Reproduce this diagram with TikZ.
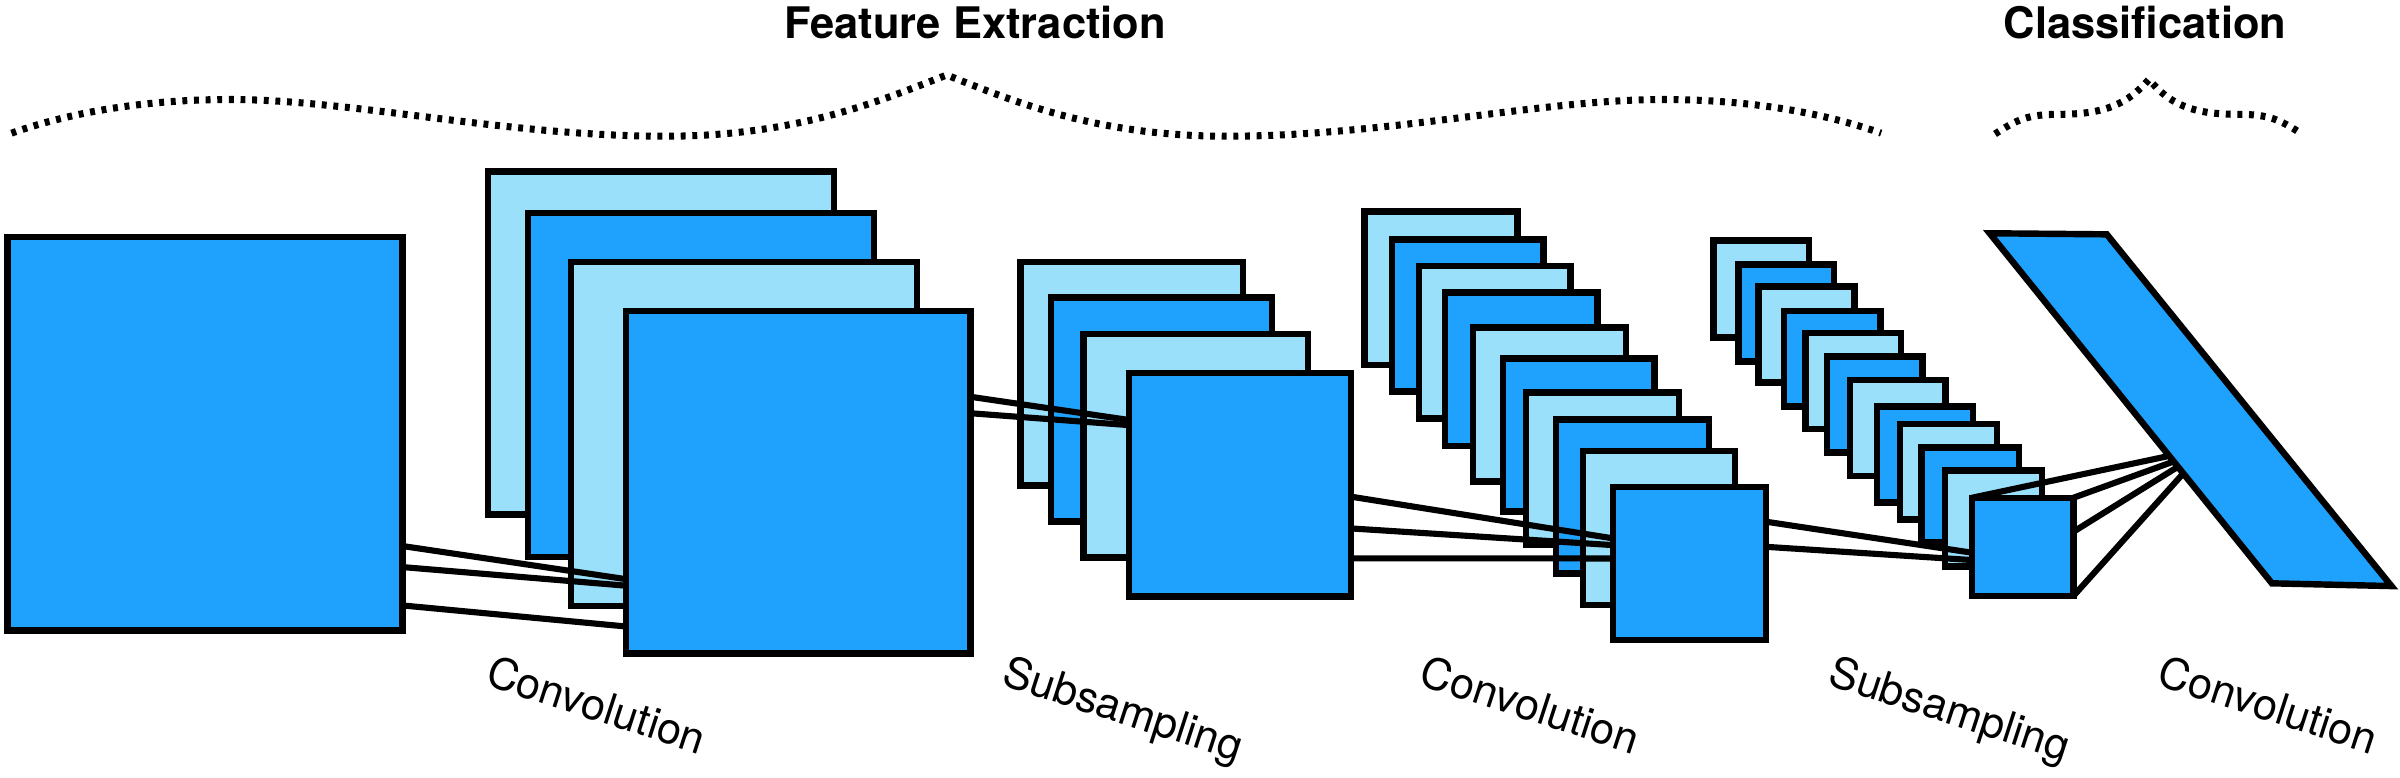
\documentclass[tikz,border=0pt]{standalone}
\usepackage{fontspec}
\setmainfont{TeX Gyre Heros}
\usetikzlibrary{calc}
\definecolor{dk}{RGB}{30,162,253}
\definecolor{lt}{RGB}{154,224,251}
\pgfdeclarelayer{bg}
\pgfdeclarelayer{mid}
\pgfsetlayers{bg,mid,main}
\newcommand\fmbox[6]{\node[#2, minimum width={(#5-#3)*0.5pt}, minimum height={(#6-#4)*0.5pt}] (#1) at ({(#3+#5)/2},{(#4+#6)/2}) {};}
\begin{document}
\begin{tikzpicture}[x=0.5pt,y=-0.5pt,
  fm/.style={draw=black, line width=2.1pt, inner sep=0pt, outer sep=0pt, rectangle},
  fd/.style={fm, fill=dk}, fl/.style={fm, fill=lt},
  link/.style={line width=2pt},
  brace/.style={line width=2.3pt, dash pattern=on 1.6pt off 2.2pt},
  ttl/.style={font=\bfseries\fontsize{14.2}{16}\selectfont, inner sep=0pt, anchor=base},
  lbl/.style={font=\fontsize{14.1}{16}\selectfont, inner sep=0pt, anchor=base west, rotate=-18}]
\useasboundingbox (0,0) rectangle (1568,508);

% titles
\node[ttl] (fe) at (637,25) {Feature Extraction};
\node[ttl] (cl) at (1401.5,25) {Classification};

% braces
\draw[brace] (7.5,87) .. controls (50,72) and (100,65) .. (150,65)
  .. controls (230,65) and (330,89) .. (435,89)
  .. controls (520,89) and (575,66) .. (618.5,49)
  .. controls (661.5,66) and (716.5,89) .. (801.5,89)
  .. controls (906.5,89) and (1006.5,65) .. (1086.5,65)
  .. controls (1136.5,65) and (1186.5,72) .. (1229,87);
\draw[brace] (1303.4,87.5) .. controls (1318,78) and (1325,74.7) .. (1345,74.7)
  .. controls (1375,74.7) and (1390,68) .. (1404,51.8)
  .. controls (1417.2,68) and (1432.2,74.7) .. (1462.2,74.7)
  .. controls (1482.2,74.7) and (1489.2,78) .. (1503.8,87.5);

% back maps
\begin{pgfonlayer}{bg}
\fmbox{ca}{fl}{319}{112}{545}{336}
\fmbox{cb}{fd}{345}{139}{571}{364}
\fmbox{cc}{fl}{373}{171}{599}{396}
\fmbox{sa}{fl}{666.7}{171}{812}{317.3}
\fmbox{sb}{fd}{686.6}{194.5}{831}{340.8}
\fmbox{sc}{fl}{708}{218.2}{854.6}{364.1}
\fmbox{ka}{fl}{891.5}{138.3}{991.4}{238.5}
\fmbox{kb}{fd}{909.3}{156.4}{1008.4}{255.9}
\fmbox{kc}{fl}{927}{173.6}{1026.1}{273.3}
\fmbox{kd}{fd}{944}{191}{1043.8}{291.2}
\fmbox{ke}{fl}{962.4}{213.9}{1062.3}{314.7}
\fmbox{kf}{fd}{981.8}{234.1}{1081}{334.3}
\fmbox{kg}{fl}{997}{256.5}{1097}{356.1}
\fmbox{kh}{fd}{1016.6}{274}{1116.4}{374.6}
\fmbox{ki}{fl}{1034.3}{294.7}{1133.4}{395.3}
\fmbox{ta}{fl}{1119.6}{157.2}{1181.8}{220.4}
\fmbox{tb}{fd}{1135.8}{172.7}{1198.3}{236.3}
\fmbox{tc}{fl}{1149}{187.3}{1211.7}{249.8}
\fmbox{td}{fd}{1165.5}{203}{1228.6}{265.7}
\fmbox{te}{fl}{1179.5}{217.4}{1242.1}{280.1}
\fmbox{tf}{fd}{1193.6}{233}{1256.1}{295.7}
\fmbox{tg}{fl}{1208.6}{248.3}{1271.1}{311}
\fmbox{th}{fd}{1226.4}{265.7}{1289}{328.4}
\fmbox{ti}{fl}{1241.4}{277}{1304.6}{339.3}
\fmbox{tj}{fd}{1255.5}{292.5}{1319.2}{354.5}
\fmbox{tk}{fl}{1270.8}{307.5}{1334.2}{370.2}
\end{pgfonlayer}

% front maps
\fmbox{in}{fd}{5}{155}{263}{412}
\fmbox{cd}{fd}{409}{203}{634}{427}
\fmbox{sd}{fd}{737.5}{243.7}{882.7}{389.8}
\fmbox{kj}{fd}{1053.8}{318}{1153.6}{418.1}
\fmbox{tl}{fd}{1288.3}{325.2}{1354.6}{389.4}

% output layer
\coordinate (pa) at (1299.9,152.4);
\coordinate (pb) at (1376.4,153.1);
\coordinate (pc) at (1562.4,382.9);
\coordinate (pd) at (1484.3,381.1);
\draw[line width=2.1pt, fill=dk] (pa) -- (pb) -- (pc) -- (pd) -- cycle;
\coordinate (q1) at ($(pa)!0.636!(pd)$);
\coordinate (q2) at ($(pa)!0.652!(pd)$);
\coordinate (q3) at ($(pa)!0.667!(pd)$);
\coordinate (q4) at ($(pa)!0.686!(pd)$);

% connectors
\begin{pgfonlayer}{mid}
\draw[link] ($(in.north east)!0.785!(in.south east)$) -- ($(cd.north west)!0.783!(cd.south west)$);
\draw[link] ($(in.north east)!0.8385!(in.south east)$) -- ($(cd.north west)!0.802!(cd.south west)$);
\draw[link] ($(in.north east)!0.936!(in.south east)$) -- ($(cd.north west)!0.921!(cd.south west)$);
\draw[link] ($(cd.north east)!0.251!(cd.south east)$) -- ($(sd.north west)!0.21!(sd.south west)$);
\draw[link] ($(cd.north east)!0.299!(cd.south east)$) -- ($(sd.north west)!0.233!(sd.south west)$);
\draw[link] ($(sd.north east)!0.553!(sd.south east)$) -- ($(kj.north west)!0.337!(kj.south west)$);
\draw[link] ($(sd.north east)!0.695!(sd.south east)$) -- ($(kj.north west)!0.381!(kj.south west)$);
\draw[link] ($(sd.north east)!0.829!(sd.south east)$) -- ($(kj.north west)!0.468!(kj.south west)$);
\draw[link] ($(kj.north east)!0.228!(kj.south east)$) -- ($(tl.north west)!0.559!(tl.south west)$);
\draw[link] ($(kj.north east)!0.392!(kj.south east)$) -- ($(tl.north west)!0.634!(tl.south west)$);
\draw[link] (tl.north west) -- (q1);
\draw[link] (tl.north east) -- (q2);
\draw[link] ($(tl.north east)!0.346!(tl.south east)$) -- (q3);
\draw[link] (tl.south east) -- (q4);
\end{pgfonlayer}

% labels
\node[lbl] (l1) at (316,447) {Convolution};
\node[lbl] (l2) at (653,447) {Subsampling};
\node[lbl] (l3) at (926,447) {Convolution};
\node[lbl] (l4) at (1193,447) {Subsampling};
\node[lbl] (l5) at (1408,447) {Convolution};
\end{tikzpicture}
\end{document}
